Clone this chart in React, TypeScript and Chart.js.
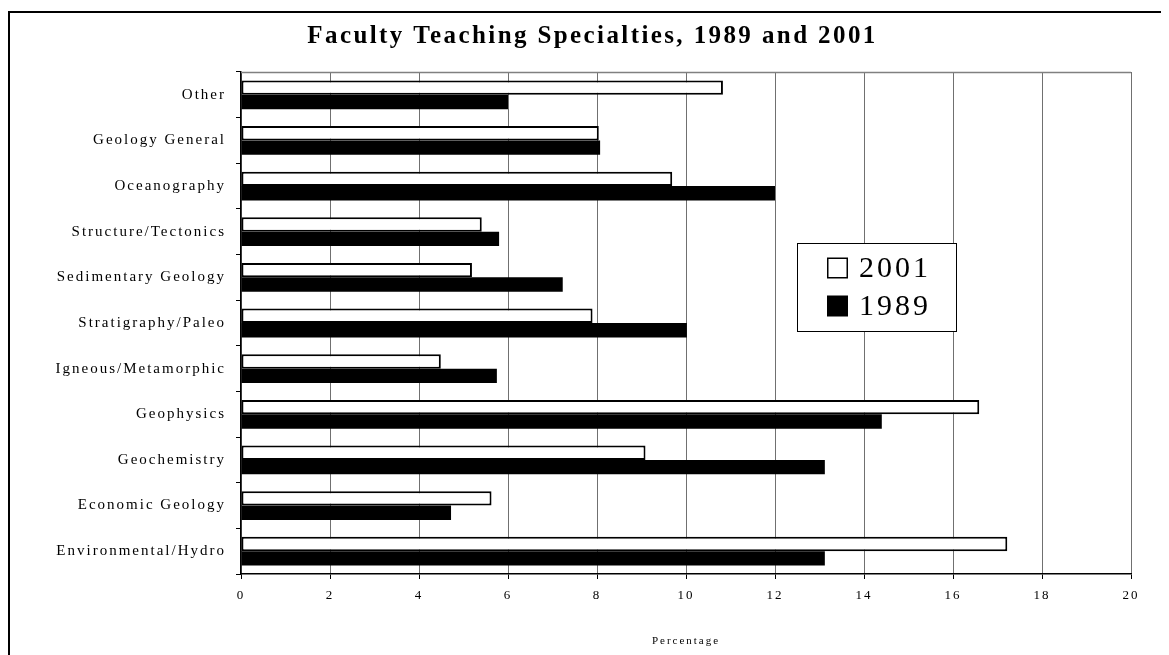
import React, { useEffect, useRef } from 'react';
import { Chart, registerables } from 'chart.js';

Chart.register(...registerables);

const categories = [
  'Other',
  'Geology General',
  'Oceanography',
  'Structure/Tectonics',
  'Sedimentary Geology',
  'Stratigraphy/Paleo',
  'Igneous/Metamorphic',
  'Geophysics',
  'Geochemistry',
  'Economic Geology',
  'Environmental/Hydro',
];
const values2001 = [10.83, 8.04, 9.69, 5.41, 5.19, 7.9, 4.49, 16.59, 9.09, 5.63, 17.22];
const values1989 = [6.0, 8.07, 12.0, 5.8, 7.23, 10.02, 5.75, 14.4, 13.12, 4.72, 13.12];
const seriesLabels = ['2001', '1989'];
const xMin = 0;
const xMax = 20;
const xStep = 2;
const titleText = 'Faculty Teaching Specialties, 1989 and 2001';
const xTitleText = 'Percentage';

const FONT = '"Liberation Serif", "Times New Roman", serif';

const spacingPlugin = {
  id: 'spacing',
  beforeUpdate(chart: any) {
    chart.ctx.letterSpacing = '2px';
  },
  beforeLayout(chart: any) {
    chart.ctx.letterSpacing = '2px';
  },
  beforeDraw(chart: any) {
    chart.ctx.letterSpacing = '2px';
  },
};

const titlePlugin = {
  id: 'customTitle',
  afterDraw(chart: any) {
    const { ctx } = chart;
    ctx.save();
    ctx.fillStyle = '#000000';
    ctx.font = `bold 25px ${FONT}`;
    ctx.letterSpacing = '2.4px';
    ctx.textAlign = 'center';
    ctx.textBaseline = 'alphabetic';
    ctx.fillText(titleText, chart.width / 2 + 3, 30);
    ctx.restore();
  },
};

const frameTopPlugin = {
  id: 'frameTop',
  beforeDatasetsDraw(chart: any) {
    const { ctx, chartArea: a } = chart;
    ctx.save();
    ctx.strokeStyle = '#808080';
    ctx.lineWidth = 1.5;
    ctx.beginPath();
    ctx.moveTo(a.left, a.top + 0.5);
    ctx.lineTo(a.right, a.top + 0.5);
    ctx.stroke();
    ctx.restore();
  },
};

const boxLegendPlugin = {
  id: 'boxLegend',
  afterDraw(chart: any) {
    const { ctx, chartArea: a } = chart;
    const w = a.right - a.left;
    const h = a.bottom - a.top;
    const x0 = Math.round(a.left + 0.6247 * w);
    const x1 = Math.round(a.left + 0.8034 * w);
    const y0 = Math.round(a.top + 0.3406 * h);
    const y1 = Math.round(a.top + 0.516 * h);
    ctx.save();
    ctx.fillStyle = '#ffffff';
    ctx.fillRect(x0, y0, x1 - x0, y1 - y0);
    ctx.strokeStyle = '#000000';
    ctx.lineWidth = 1;
    ctx.strokeRect(x0 + 0.5, y0 + 0.5, x1 - x0, y1 - y0);
    const rowCenters = [y0 + 25, y0 + 63];
    chart.data.datasets.forEach((ds: any, i: number) => {
      const cy = rowCenters[i];
      const sx = x0 + 30;
      const size = 21;
      if (ds.backgroundColor === '#ffffff') {
        ctx.fillStyle = '#ffffff';
        ctx.fillRect(sx, cy - size / 2, size, size);
        ctx.strokeStyle = '#000000';
        ctx.lineWidth = 1.5;
        ctx.strokeRect(sx + 0.75, cy - size / 2 + 0.75, size - 1.5, size - 1.5);
      } else {
        ctx.fillStyle = '#000000';
        ctx.fillRect(sx, cy - size / 2, size, size);
      }
      ctx.fillStyle = '#000000';
      ctx.font = `30px ${FONT}`;
      ctx.letterSpacing = '3px';
      ctx.textAlign = 'left';
      ctx.textBaseline = 'middle';
      ctx.fillText(ds.label, x0 + 62, cy + 1);
    });
    ctx.restore();
  },
};

export default function App() {
  const canvasRef = useRef<HTMLCanvasElement | null>(null);

  useEffect(() => {
    document.body.style.overflow = 'hidden';
    const canvas = canvasRef.current;
    if (!canvas) return;
    const chart = new Chart(canvas, {
      type: 'bar',
      data: {
        labels: categories,
        datasets: [
          {
            label: seriesLabels[0],
            data: values2001,
            backgroundColor: '#ffffff',
            borderColor: '#000000',
            borderWidth: 2,
            borderSkipped: false,
            categoryPercentage: 0.63,
            barPercentage: 1.0,
          },
          {
            label: seriesLabels[1],
            data: values1989,
            backgroundColor: '#000000',
            borderColor: '#000000',
            borderWidth: 0,
            categoryPercentage: 0.63,
            barPercentage: 1.0,
          },
        ],
      },
      options: {
        indexAxis: 'y',
        responsive: false,
        animation: false,
        devicePixelRatio: 1,
        layout: { padding: { left: 0, right: 38, top: 59, bottom: 0 } },
        plugins: {
          legend: { display: false },
          tooltip: { enabled: false },
          title: { display: false },
        },
        scales: {
          x: {
            type: 'linear',
            min: xMin,
            max: xMax,
            ticks: {
              stepSize: xStep,
              color: '#000000',
              font: { family: FONT, size: 13 },
              padding: 9,
            },
            grid: {
              color: '#707070',
              lineWidth: 1,
              drawTicks: true,
              tickLength: 5,
              tickColor: '#000000',
            },
            border: { display: true, color: '#000000', width: 1.5 },
            title: {
              display: true,
              text: xTitleText,
              color: '#000000',
              font: { family: FONT, size: 11 },
              padding: { top: 0, bottom: 7 },
            },
            afterFit(scale: any) {
              scale.height = 81;
            },
          },
          y: {
            type: 'category',
            ticks: {
              color: '#000000',
              font: { family: FONT, size: 15 },
              padding: 10,
            },
            grid: {
              drawOnChartArea: false,
              drawTicks: true,
              tickLength: 5,
              color: '#000000',
              tickColor: '#000000',
              offset: true,
            },
            border: { display: true, color: '#000000', width: 1.5 },
            afterFit(scale: any) {
              scale.width = 231;
            },
          },
        },
      },
      plugins: [spacingPlugin, frameTopPlugin, boxLegendPlugin, titlePlugin],
    } as any);
    return () => {
      chart.destroy();
    };
  }, []);

  return (
    <div style={{ paddingTop: 3 }}>
      <div
        style={{
          borderTop: '2px solid #000',
          borderLeft: '2px solid #000',
          width: 1161,
          height: 642,
          background: '#fff',
        }}
      >
        <canvas
          ref={canvasRef}
          width={1159}
          height={642}
          style={{ display: 'block', width: 1159, height: 642 }}
        />
      </div>
    </div>
  );
}
